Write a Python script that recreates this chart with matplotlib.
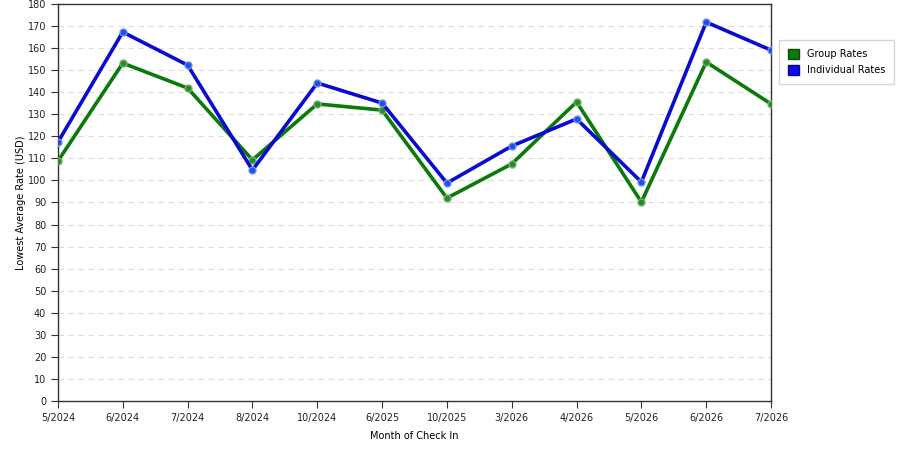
import matplotlib
matplotlib.use("Agg")
import matplotlib.pyplot as plt
import matplotlib.ticker as ticker
from matplotlib.patches import Patch

months = ["5/2024", "6/2024", "7/2024", "8/2024", "10/2024", "6/2025",
          "10/2025", "3/2026", "4/2026", "5/2026", "6/2026", "7/2026"]
group_rates = [108.8, 153.2, 141.9, 109.3, 134.7, 131.9,
               92.0, 107.5, 135.6, 90.2, 153.7, 134.7]
individual_rates = [117.4, 167.3, 152.3, 104.7, 144.2, 135.1,
                    98.8, 115.6, 127.9, 99.3, 171.8, 159.1]

plt.rcParams['font.family'] = ['DejaVu Sans']

fig = plt.figure(figsize=(9, 4.5), dpi=100)
ax = fig.add_axes([0.0644, 0.109, 0.7923, 0.882])

x = list(range(len(months)))
ax.plot(x, group_rates, color='#0a7a0a', lw=2.6, marker='o', ms=5,
        mfc='#2a8a2a', mec='#70b070', mew=1, zorder=3)
ax.plot(x, individual_rates, color='#0a0ad0', lw=2.6, marker='o', ms=5,
        mfc='#2050e0', mec='#7090f0', mew=1, zorder=4)

ax.set_xlim(0, len(months) - 1)
ax.set_ylim(0, 180)
ax.yaxis.set_major_locator(ticker.MultipleLocator(10))
ax.set_xticks(x)
ax.set_xticklabels(months)
ax.tick_params(labelsize=7, length=5, color='#333333', direction='out',
               labelcolor='#222222')
ax.grid(axis='y', color='#dddddd', linestyle=(0, (5, 4)), lw=0.8)
ax.set_axisbelow(True)
for s in ax.spines.values():
    s.set_color('#333333')
    s.set_linewidth(1)

ax.set_xlabel("Month of Check In", fontsize=7, labelpad=6)
ax.set_ylabel("Lowest Average Rate (USD)", fontsize=7, labelpad=1)

handles = [Patch(facecolor='#0a7a0a', edgecolor='#0a4a0a', label='Group Rates'),
           Patch(facecolor='#0a0af0', edgecolor='#0a0a80', label='Individual Rates')]
fig.legend(handles=handles, loc='upper left', bbox_to_anchor=(0.866, 0.911),
           borderaxespad=0, fontsize=7, frameon=True, fancybox=False,
           edgecolor='#cccccc', handlelength=1.1, handleheight=1.2,
           handletextpad=0.8, borderpad=0.9, labelspacing=0.6)

fig.savefig("out.png", dpi=100)
